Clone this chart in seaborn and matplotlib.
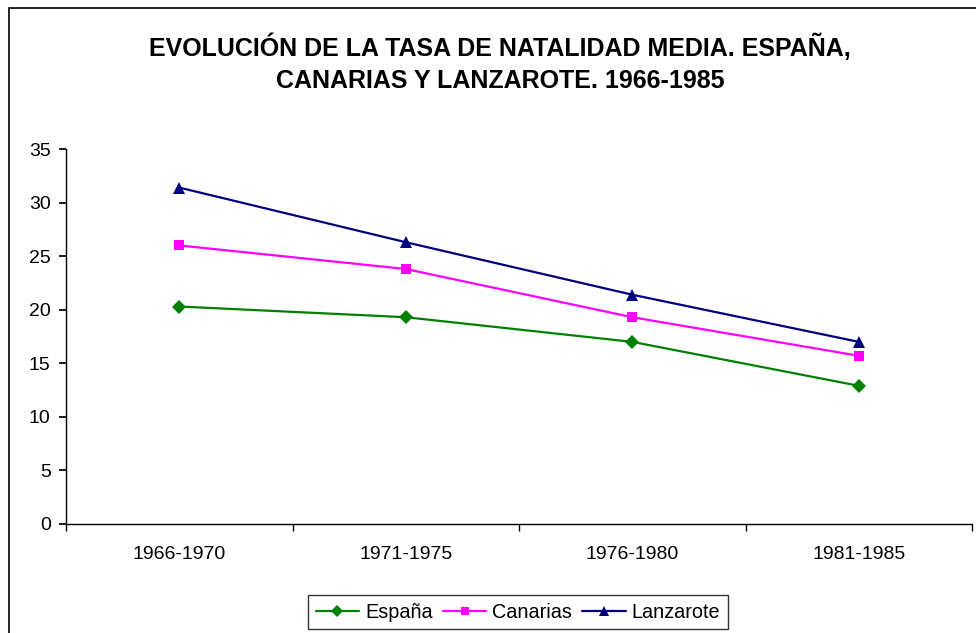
import matplotlib
matplotlib.use("Agg")
import matplotlib.pyplot as plt
import seaborn as sns
import pandas as pd
from matplotlib.patches import Rectangle

periods = ["1966-1970", "1971-1975", "1976-1980", "1981-1985"]
espana = [20.3, 19.3, 17.0, 12.9]
canarias = [26.0, 23.8, 19.3, 15.7]
lanzarote = [31.4, 26.3, 21.4, 17.0]
series_names = ["España", "Canarias", "Lanzarote"]
title = "EVOLUCIÓN DE LA TASA DE NATALIDAD MEDIA. ESPAÑA,\nCANARIAS Y LANZAROTE. 1966-1985"

sns.set_theme(style="white")
plt.rcParams['font.family'] = ['Liberation Sans', 'DejaVu Sans']
plt.rcParams['text.color'] = 'black'

df = pd.DataFrame({
    "period": periods * 3,
    "value": espana + canarias + lanzarote,
    "serie": [series_names[0]] * 4 + [series_names[1]] * 4 + [series_names[2]] * 4,
})

fig = plt.figure(figsize=(9.76, 6.33), dpi=100)
ax = fig.add_axes([66/976, 1-524/633, 906/976, 375/633])

colors = {"España": "#008000", "Canarias": "#FF00FF", "Lanzarote": "#000080"}
markers = {"España": "D", "Canarias": "s", "Lanzarote": "^"}
msize = {"España": 7, "Canarias": 7.5, "Lanzarote": 8.5}
for name in series_names:
    sub = df[df["serie"] == name]
    sns.lineplot(data=sub, x="period", y="value", ax=ax, color=colors[name],
                 marker=markers[name], markersize=msize[name], markeredgewidth=0,
                 linewidth=1.6, label=name, sort=False)

ax.set_xlim(-0.5, 3.5)
ax.set_ylim(0, 35)
ax.set_yticks(range(0, 36, 5))
ax.set_xlabel("")
ax.set_ylabel("")
for s in ["top", "right"]:
    ax.spines[s].set_visible(False)
for s in ["left", "bottom"]:
    ax.spines[s].set_color("black")
    ax.spines[s].set_linewidth(1.0)
ax.tick_params(axis="y", which="major", length=5, direction="out", color="black",
               left=True, labelsize=14, pad=6, labelcolor="black")
ax.tick_params(axis="x", which="major", length=0, labelsize=14, pad=16, labelcolor="black")
ax.set_xticks([-0.5, 0.5, 1.5, 2.5, 3.5], minor=True)
ax.tick_params(axis="x", which="minor", length=5, direction="out", color="black", bottom=True)

ax.legend_.remove()
handles, labels = ax.get_legend_handles_labels()
leg = fig.legend(handles, labels, loc="center", bbox_to_anchor=(518/976, 1-612/633),
                 ncol=3, frameon=True, fancybox=False, edgecolor="black",
                 fontsize=14.3, handlelength=2.2, handletextpad=0.3, columnspacing=0.5,
                 borderpad=0.4, markerscale=0.85)
leg.get_frame().set_linewidth(1.0)
for t in leg.get_texts():
    t.set_color("black")

fig.text(500/976, 1-63/633, title, ha="center", va="center", fontsize=18,
         fontweight="bold", linespacing=1.42, color="black")

fig.patches.append(Rectangle((9/976, -0.1), 1.2, 1 - 8/633 + 0.1, transform=fig.transFigure,
                             fill=False, edgecolor="black", linewidth=1.2))

fig.savefig("out.png", dpi=100)
